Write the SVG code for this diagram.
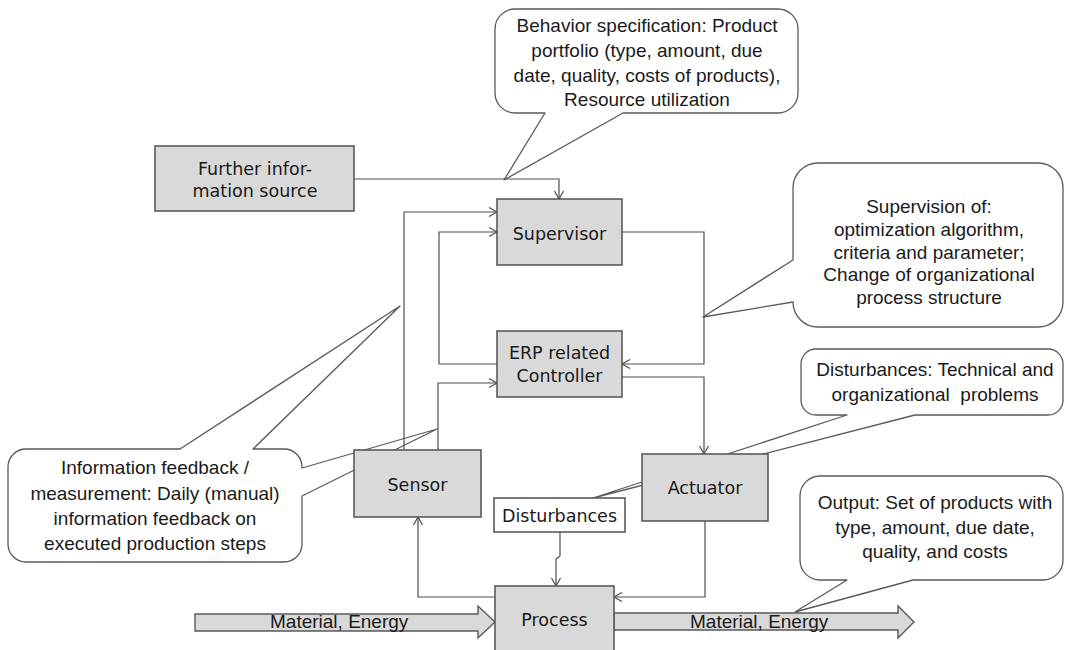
<svg xmlns="http://www.w3.org/2000/svg" width="1065" height="650" viewBox="0 0 1065 650">
  <style>
    .box { fill: #d9d9d9; stroke: #5a5a5a; stroke-width: 1.6; }
    .wbox { fill: #ffffff; stroke: #5a5a5a; stroke-width: 1.6; }
    .call { fill: #ffffff; stroke: #5a5a5a; stroke-width: 1.3; stroke-linejoin: round; }
    .flow { fill: #d9d9d9; stroke: #5a5a5a; stroke-width: 1.4; }
    .wire { fill: none; stroke: #4d4d4d; stroke-width: 1.2; }
    .lbl { font-family: "DejaVu Sans", Verdana, sans-serif; font-size: 17.5px; fill: #1a1a1a; text-anchor: middle; }
    .note { font-family: "Liberation Sans", Arial, sans-serif; font-size: 19px; fill: #1a1a1a; text-anchor: middle; }
    .flowtxt { font-family: "Liberation Sans", Arial, sans-serif; font-size: 19px; fill: #1a1a1a; }
  </style>
  <defs>
    <marker id="arr" markerUnits="userSpaceOnUse" markerWidth="14" markerHeight="14" viewBox="-10 -7 12 14" refX="0" refY="0" orient="auto">
      <path d="M-8,-4.5 L0,0 L-8,4.5" fill="none" stroke="#4d4d4d" stroke-width="1.2"/>
    </marker>
  </defs>

  <rect width="1065" height="650" fill="#ffffff"/>

  <!-- annotation callouts -->
  <g id="note-behavior">
    <path class="call" d="M515,9 H778 A20,20 0 0 1 798,29 V93 A20,20 0 0 1 778,113 H623 L504,180 L545,113 H515 A20,20 0 0 1 495,93 V29 A20,20 0 0 1 515,9 Z"/>
    <text class="note" x="647" y="32">Behavior specification: Product</text>
    <text class="note" x="647" y="57">portfolio (type, amount, due</text>
    <text class="note" x="647" y="82">date, quality, costs of products),</text>
    <text class="note" x="647" y="106">Resource utilization</text>
  </g>

  <g id="note-supervision">
    <path class="call" d="M818,163 H1038 A25,25 0 0 1 1063,188 V302 A25,25 0 0 1 1038,327 H818 A25,25 0 0 1 793,302 L703,317 L793,260 V188 A25,25 0 0 1 818,163 Z"/>
    <text class="note" x="929" y="213">Supervision of:</text>
    <text class="note" x="929" y="236">optimization algorithm,</text>
    <text class="note" x="929" y="259">criteria and parameter;</text>
    <text class="note" x="929" y="281">Change of organizational</text>
    <text class="note" x="929" y="304">process structure</text>
  </g>

  <g id="note-disturbances">
    <path class="call" d="M816,349 H1048 A15,15 0 0 1 1063,364 V400 A15,15 0 0 1 1048,415 H915 L593,498 L847,415 H816 A15,15 0 0 1 801,400 V364 A15,15 0 0 1 816,349 Z"/>
    <text class="note" x="935" y="376">Disturbances: Technical and</text>
    <text class="note" x="935" y="401" xml:space="preserve">organizational  problems</text>
  </g>

  <g id="note-output">
    <path class="call" d="M820,476 H1043 A20,20 0 0 1 1063,496 V560 A20,20 0 0 1 1043,580 H913 L795,612 L847,580 H820 A20,20 0 0 1 800,560 V496 A20,20 0 0 1 820,476 Z"/>
    <text class="note" x="935" y="509">Output: Set of products with</text>
    <text class="note" x="935" y="534">type, amount, due date,</text>
    <text class="note" x="935" y="558">quality, and costs</text>
  </g>

  <g id="note-feedback">
    <path class="call" d="M26,449 H180 L400,306 L253,449 H284 A18,18 0 0 1 302,467 V468 L437,429 L302,496 V544 A18,18 0 0 1 284,562 H26 A18,18 0 0 1 8,544 V467 A18,18 0 0 1 26,449 Z"/>
    <text class="note" x="155" y="474">Information feedback /</text>
    <text class="note" x="155" y="500">measurement: Daily (manual)</text>
    <text class="note" x="155" y="525">information feedback on</text>
    <text class="note" x="155" y="550">executed production steps</text>
  </g>

  <!-- material / energy flow -->
  <g id="flow-in">
    <path class="flow" d="M195,614 H478 V606 L495,622 L478,638 V631 H195 Z"/>
    <text class="flowtxt" x="270" y="628">Material, Energy</text>
  </g>
  <g id="flow-out">
    <path class="flow" d="M614,613 H898 V606 L914,622 L898,638 V630 H614 Z"/>
    <text class="flowtxt" x="690" y="628">Material, Energy</text>
  </g>

  <!-- signal connectors -->
  <g id="connectors" class="wire">
    <path d="M354,179 H559 V199" marker-end="url(#arr)"/>
    <path d="M404,450 V212 H497" marker-end="url(#arr)"/>
    <path d="M497,364 H439 V232 H497" marker-end="url(#arr)"/>
    <path d="M438,450 V383 H497" marker-end="url(#arr)"/>
    <path d="M622,232 H704 V364 H622" marker-end="url(#arr)"/>
    <path d="M622,377 H704 V454" marker-end="url(#arr)"/>
    <path d="M705,521 V597 H614" marker-end="url(#arr)"/>
    <path d="M495,597 H418 V517" marker-end="url(#arr)"/>
    <path d="M560,532 V556 L556,559 V586" marker-end="url(#arr)"/>
  </g>

  <!-- blocks -->
  <g id="further-info">
    <rect class="box" x="155" y="146" width="199" height="65"/>
    <text class="lbl" x="255" y="175">Further infor-</text>
    <text class="lbl" x="255" y="197">mation source</text>
  </g>
  <g id="supervisor">
    <rect class="box" x="497" y="199" width="125" height="66"/>
    <text class="lbl" x="559.5" y="240">Supervisor</text>
  </g>
  <g id="controller">
    <rect class="box" x="497" y="331" width="125" height="66"/>
    <text class="lbl" x="559.5" y="359">ERP related</text>
    <text class="lbl" x="559.5" y="382">Controller</text>
  </g>
  <g id="sensor">
    <rect class="box" x="354" y="450" width="127" height="67"/>
    <text class="lbl" x="417.5" y="491">Sensor</text>
  </g>
  <g id="actuator">
    <rect class="box" x="642" y="454" width="126" height="67"/>
    <text class="lbl" x="705" y="494">Actuator</text>
  </g>
  <g id="disturbances">
    <rect class="wbox" x="494" y="498" width="131" height="34"/>
    <text class="lbl" x="559.5" y="522">Disturbances</text>
  </g>
  <g id="process">
    <rect class="box" x="495" y="586" width="119" height="80"/>
    <text class="lbl" x="554.5" y="626">Process</text>
  </g>
</svg>
